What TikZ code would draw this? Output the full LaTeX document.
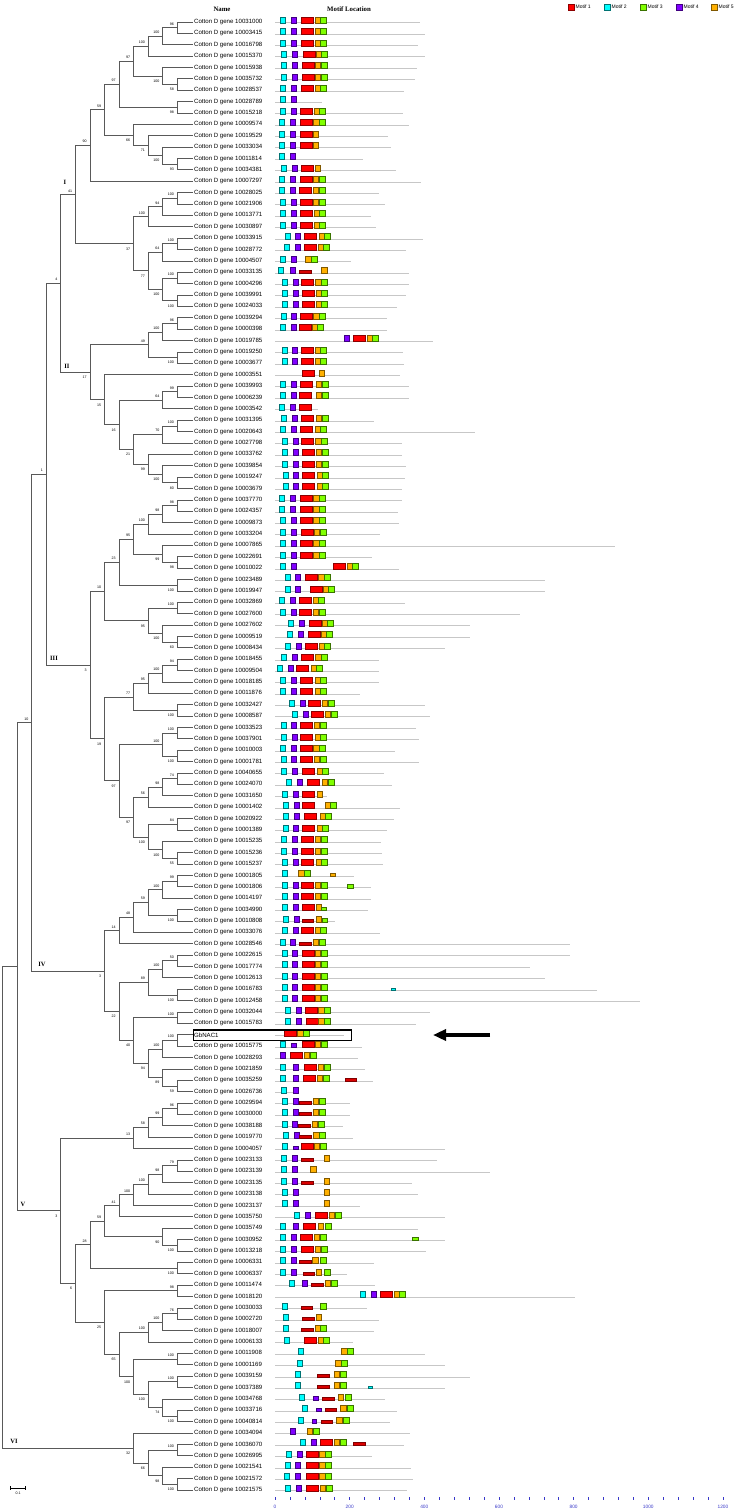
\documentclass[tikz,border=0pt]{standalone}
\usepackage{fontspec}
\setmainfont{Liberation Serif}
\setsansfont{Liberation Sans}
\usetikzlibrary{arrows.meta,calc}
\definecolor{mred}{HTML}{FF0000}
\definecolor{mcyan}{HTML}{00FFFF}
\definecolor{mgreen}{HTML}{80FF00}
\definecolor{mpurple}{HTML}{8000FF}
\definecolor{morange}{HTML}{FFB000}
\definecolor{axblue}{HTML}{3838C8}
\tikzset{leaf/.style={anchor=west,inner xsep=1.5pt,inner ysep=0pt,font=\sffamily\fontsize{6.1}{6.1}\selectfont},
  branch/.style={draw=black!65,line width=0.9pt},
  boot/.style={anchor=east,inner sep=0pt,xshift=-3.2pt,font=\sffamily\fontsize{3.6}{3.6}\selectfont},
  boota/.style={boot,yshift=3.8pt},
  bootb/.style={boot,yshift=-5pt},
  clab/.style={font=\bfseries\fontsize{6.5}{6.5}\selectfont,inner sep=0pt},
  seq/.style={draw=black!22,line width=0.8pt},
  mot/.style={anchor=south west,inner sep=0pt,outer sep=0pt,line width=0.45pt,minimum height=6pt},
  motr/.style={mot,fill=mred,draw=mred!55!black,minimum width=12pt},
  motR/.style={mot,fill=mred!85!black,draw=mred!50!black,minimum width=11.5pt,minimum height=3pt},
  motc/.style={mot,fill=mcyan,draw=mcyan!45!black,minimum width=5pt},
  motC/.style={mot,fill=mcyan,draw=mcyan!45!black,minimum width=4pt,minimum height=2.5pt},
  motg/.style={mot,fill=mgreen,draw=mgreen!45!black,minimum width=6pt},
  motG/.style={mot,fill=mgreen,draw=mgreen!45!black,minimum width=5.5pt,minimum height=3.5pt},
  motp/.style={mot,fill=mpurple,draw=mpurple!50!black,minimum width=5pt},
  motP/.style={mot,fill=mpurple,draw=mpurple!50!black,minimum width=4.5pt,minimum height=3.5pt},
  moto/.style={mot,fill=morange,draw=morange!50!black,minimum width=5.3pt},
  motO/.style={mot,fill=morange,draw=morange!50!black,minimum width=5pt,minimum height=3pt},
  axtick/.style={draw=axblue,line width=0.5pt},
  axlab/.style={text=axblue,inner sep=0pt,font=\sffamily\fontsize{4.8}{4.8}\selectfont}}

% one row: index, name, end of sequence line, motifs (type/left edge)
\newcommand{\gene}[4]{%
  \pgfmathsetmacro{\ry}{22+(#1-1)*11.38}
  \node[leaf] (l#1) at (192.5,\ry) {#2};
  \draw[seq] (275,\ry+0.7) -- (#3,\ry+0.7);
  \foreach \t/\x [count=\k] in {#4} {\node[mot\t] (m#1-\k) at (\x,\ry+1) {};}
}
% one clade: name, level, upper child, lower child, support, label side
\newcommand{\clade}[6]{%
  \path let \p1=(#3), \p2=(#4) in ({(177.3-14.55*#2)*1pt},{(\y1+\y2)/2}) coordinate (#1);
  \draw[branch] (#3) -- (#1 |- #3) -- (#1 |- #4) -- (#4);
  \node[boot#6] (#1b) at (#1) {#5};
}

\begin{document}
\begin{tikzpicture}[x=1pt,y=-1pt]
\useasboundingbox (0,0) rectangle (740,1511);

% headers and legend
\node[font=\bfseries\fontsize{6.8}{6.8}\selectfont] (hname) at (222,9) {Name};
\node[font=\bfseries\fontsize{6.8}{6.8}\selectfont] (hmotif) at (349,9) {Motif Location};
\node[motr,minimum width=6pt] (k1) at (568,10) {};
\node[leaf,font=\sffamily\fontsize{5}{5}\selectfont] (t1) at (k1.east) {Motif 1};
\node[motc,minimum width=6pt] (k2) at (604,10) {};
\node[leaf,font=\sffamily\fontsize{5}{5}\selectfont] (t2) at (k2.east) {Motif 2};
\node[motg,minimum width=6pt] (k3) at (640,10) {};
\node[leaf,font=\sffamily\fontsize{5}{5}\selectfont] (t3) at (k3.east) {Motif 3};
\node[motp,minimum width=6pt] (k4) at (676,10) {};
\node[leaf,font=\sffamily\fontsize{5}{5}\selectfont] (t4) at (k4.east) {Motif 4};
\node[moto,minimum width=6pt] (k5) at (711,10) {};
\node[leaf,font=\sffamily\fontsize{5}{5}\selectfont] (t5) at (k5.east) {Motif 5};

% leaves and motifs
\gene{1}{Cotton D gene 10031000}{420}{c/280,p/291,r/301.3,o/315.3,g/320.7}
\gene{2}{Cotton D gene 10003415}{425}{c/280,p/291,r/301.3,o/315.3,g/320.7}
\gene{3}{Cotton D gene 10016798}{418}{c/280,p/291,r/301.3,o/315.3,g/320.7}
\gene{4}{Cotton D gene 10015370}{425}{c/281,p/292,r/303,o/316.3,g/321.7}
\gene{5}{Cotton D gene 10015938}{417}{c/281,p/292,r/302,o/315.3,g/321.3}
\gene{6}{Cotton D gene 10035732}{415}{c/281,p/292,r/302,o/315.3,g/321.3}
\gene{7}{Cotton D gene 10028537}{404}{c/280,p/291,r/301.3,o/315.3,g/320.7}
\gene{8}{Cotton D gene 10028789}{322}{c/280,p/291}
\gene{9}{Cotton D gene 10015218}{403}{c/280,p/291,r/300.3,o/314.3,g/319.7}
\gene{10}{Cotton D gene 10009574}{409}{c/279.3,p/290.7,r/300,o/313.7,g/319}
\gene{11}{Cotton D gene 10019529}{388}{c/279.3,p/290.7,r/300,o/313.3}
\gene{12}{Cotton D gene 10033034}{391}{c/279.3,p/290.7,r/300,o/313.3}
\gene{13}{Cotton D gene 10011814}{363}{c/279.3,p/290.7}
\gene{14}{Cotton D gene 10034381}{396}{c/281.7,p/292,r/301.7,o/315}
\gene{15}{Cotton D gene 10007297}{421}{c/279.3,p/290.7,r/300.3,o/313.3,g/319}
\gene{16}{Cotton D gene 10028025}{379}{c/279.3,p/290.7,r/299.3,o/313.3,g/319}
\gene{17}{Cotton D gene 10021906}{385}{c/280,p/291,r/300,o/313.3,g/319}
\gene{18}{Cotton D gene 10013771}{371}{c/280.7,p/291.7,r/300.3,o/314.3,g/319.7}
\gene{19}{Cotton D gene 10030897}{376}{c/280.7,p/291.7,r/300.3,o/314.3,g/319.7}
\gene{20}{Cotton D gene 10033915}{423}{c/285,p/295.7,r/304.7,o/319,g/324.3}
\gene{21}{Cotton D gene 10028772}{406}{c/284.3,p/295.3,r/304.3,o/318.3,g/323.7}
\gene{22}{Cotton D gene 10004507}{351}{c/280.7,p/291,o/305.7,g/311}
\gene{23}{Cotton D gene 10033135}{409}{c/278.7,p/290.3,R/299.3,o/321.7}
\gene{24}{Cotton D gene 10004296}{409}{c/282.7,p/293,r/301.7,o/315.7,g/321}
\gene{25}{Cotton D gene 10039991}{406}{c/282.7,p/293.7,r/302.3,o/316.3,g/321.7}
\gene{26}{Cotton D gene 10024033}{397}{c/282.7,p/293.7,r/302.3,o/316.3,g/321.7}
\gene{27}{Cotton D gene 10039294}{387}{c/281,p/291.3,r/300,o/313.7,g/319}
\gene{28}{Cotton D gene 10000398}{387}{c/280,p/291,r/299.7,o/312.3,g/317.7}
\gene{29}{Cotton D gene 10019785}{433}{p/344.7,r/353.7,o/367,g/372.7}
\gene{30}{Cotton D gene 10019250}{403}{c/282,p/292.3,r/301,o/315,g/320.7}
\gene{31}{Cotton D gene 10003677}{404}{c/282,p/292.3,r/301,o/315,g/320.7}
\gene{32}{Cotton D gene 10003551}{400}{r/302.3,o/319}
\gene{33}{Cotton D gene 10039993}{409}{c/280,p/291,r/300,o/316.3,g/322}
\gene{34}{Cotton D gene 10006239}{409}{c/280,p/291,r/299.3,o/316.3,g/322}
\gene{35}{Cotton D gene 10003542}{318}{c/279.3,p/290.7,r/299.3}
\gene{36}{Cotton D gene 10031395}{374}{c/281.7,p/292.3,r/301.7,o/316.3,g/322}
\gene{37}{Cotton D gene 10020643}{475}{c/280.7,p/291.7,r/300.7,o/315,g/320.7}
\gene{38}{Cotton D gene 10027798}{402}{c/282.3,p/293.3,r/301,o/315.7,g/321.3}
\gene{39}{Cotton D gene 10033762}{402}{c/282.3,p/293.3,r/302,o/316.3,g/322}
\gene{40}{Cotton D gene 10039854}{406}{c/282.3,p/293.3,r/302,o/316.3,g/322}
\gene{41}{Cotton D gene 10019247}{405}{c/283,p/293.7,r/302.7,o/317,g/322.7}
\gene{42}{Cotton D gene 10003679}{402}{c/283,p/293.7,r/302.7,o/317,g/322.7}
\gene{43}{Cotton D gene 10037770}{402}{c/279.3,p/290.7,r/300,o/313.7,g/319}
\gene{44}{Cotton D gene 10024357}{398}{c/279.3,p/290.7,r/300,o/313.7,g/319}
\gene{45}{Cotton D gene 10009873}{399}{c/280,p/291,r/300.7,o/313.7,g/319}
\gene{46}{Cotton D gene 10033204}{380}{c/280.3,p/291.3,r/301,o/314.3,g/320}
\gene{47}{Cotton D gene 10007865}{615}{c/280,p/291,r/300.7,o/313.7,g/319}
\gene{48}{Cotton D gene 10022691}{372}{c/280,p/291,r/300.3,o/313.7,g/319}
\gene{49}{Cotton D gene 10010022}{399}{c/280,p/291,r/333.7,o/347,g/352.3}
\gene{50}{Cotton D gene 10023489}{545}{c/285,p/295.7,r/305.3,o/318.7,g/324.3}
\gene{51}{Cotton D gene 10019947}{545}{c/285,p/295.7,r/310,o/323,g/328.7}
\gene{52}{Cotton D gene 10032869}{405}{c/279.3,p/290,r/299.7,o/313,g/318.7}
\gene{53}{Cotton D gene 10027600}{520}{c/280,p/291,r/299.7,o/313.3,g/319}
\gene{54}{Cotton D gene 10027602}{470}{c/288.7,p/299.3,r/309,o/322,g/327.7}
\gene{55}{Cotton D gene 10009519}{470}{c/287.3,p/298.3,r/308,o/321.7,g/326.7}
\gene{56}{Cotton D gene 10008434}{445}{c/285,p/296,r/305,o/319,g/324.3}
\gene{57}{Cotton D gene 10018455}{379}{c/281.7,p/292.3,r/301,o/315.7,g/321.3}
\gene{58}{Cotton D gene 10009504}{379}{c/277.3,p/288.3,r/296.7,o/311,g/316.7}
\gene{59}{Cotton D gene 10018185}{379}{c/280.3,p/291.3,r/300,o/315,g/320.7}
\gene{60}{Cotton D gene 10011876}{360}{c/280.3,p/291.3,r/300,o/315,g/320.7}
\gene{61}{Cotton D gene 10032427}{425}{c/289.3,p/300,r/308.7,o/322.3,g/328}
\gene{62}{Cotton D gene 10008587}{430}{c/292,p/303,r/311.7,o/325.3,g/331}
\gene{63}{Cotton D gene 10033523}{416}{c/281,p/291.3,r/300,o/314.3,g/320}
\gene{64}{Cotton D gene 10037901}{419}{c/281.7,p/292,r/300.7,o/315,g/320.7}
\gene{65}{Cotton D gene 10010003}{395}{c/280,p/291,r/300,o/313.7,g/319}
\gene{66}{Cotton D gene 10001781}{419}{c/281,p/291.3,r/300,o/314.3,g/320}
\gene{67}{Cotton D gene 10040655}{384}{c/281.7,p/292.3,r/302,o/317,g/322.7}
\gene{68}{Cotton D gene 10024070}{392}{c/286.7,p/297.3,r/307.3,o/322.3,g/328}
\gene{69}{Cotton D gene 10031650}{327}{c/282,p/293,r/302.3,o/317}
\gene{70}{Cotton D gene 10001402}{400}{c/283,p/294,r/302,o/325.3,g/330.7}
\gene{71}{Cotton D gene 10020922}{394}{c/283,p/294,r/304,o/320,g/325.3}
\gene{72}{Cotton D gene 10001389}{387}{c/283,p/293.3,r/302.7,o/317,g/322.7}
\gene{73}{Cotton D gene 10015235}{381}{c/281.7,p/292.3,r/301,o/315.3,g/321}
\gene{74}{Cotton D gene 10015236}{382}{c/281.7,p/292.3,r/301,o/315.3,g/321}
\gene{75}{Cotton D gene 10015237}{383}{c/282.3,p/293,r/301.7,o/316,g/321.7}
\gene{76}{Cotton D gene 10001805}{354}{c/282,o/298.7,g/304,O/330}
\gene{77}{Cotton D gene 10001806}{371}{c/282.7,p/293,r/301.3,o/315.3,g/321,G/347.3}
\gene{78}{Cotton D gene 10014197}{371}{c/282.7,p/293,r/301.3,o/315.3,g/321}
\gene{79}{Cotton D gene 10034990}{368}{c/282.7,p/293.3,r/302,o/316,G/321}
\gene{80}{Cotton D gene 10010808}{335}{c/283.7,p/294,R/302,o/316,G/322}
\gene{81}{Cotton D gene 10033076}{380}{c/282.7,p/293,r/301,o/315,g/320.7}
\gene{82}{Cotton D gene 10028546}{570}{c/280,p/290.7,R/299.3,o/313.3,g/319}
\gene{83}{Cotton D gene 10022615}{570}{c/282,p/292.3,r/302,o/315.3,g/321}
\gene{84}{Cotton D gene 10017774}{530}{c/282,p/292.3,r/302,o/315.3,g/321}
\gene{85}{Cotton D gene 10012613}{545}{c/282,p/292.3,r/302,o/315.3,g/321}
\gene{86}{Cotton D gene 10016783}{597}{c/282,p/292.3,r/302,o/315.3,g/321,C/391.7}
\gene{87}{Cotton D gene 10012458}{640}{c/282,p/292.3,r/302,o/315.3,g/321}
\gene{88}{Cotton D gene 10032044}{430}{c/285.7,p/296,r/305,o/318.7,g/324.3}
\gene{89}{Cotton D gene 10015783}{416}{c/285.7,p/296,r/306,o/318.7,g/324.3}
\gene{90}{GbNAC1}{344}{r/284,o/297.7,g/303.3}
\gene{91}{Cotton D gene 10015775}{362}{c/280.7,P/291.7,r/302,o/315.3,g/321}
\gene{92}{Cotton D gene 10028293}{358}{p/280.7,r/290.7,o/304,g/310}
\gene{93}{Cotton D gene 10021859}{365}{c/280.7,p/293.7,r/304.3,o/318.3,g/324}
\gene{94}{Cotton D gene 10035259}{373}{c/280.7,p/293,r/303.3,o/317.3,g/323,R/345}
\gene{95}{Cotton D gene 10026736}{298}{c/281.7,p/293}
\gene{96}{Cotton D gene 10029594}{350}{c/282.7,p/293,R/299.3,o/313.3,g/319}
\gene{97}{Cotton D gene 10030000}{350}{c/282.7,p/293,R/299.3,o/313.3,g/319}
\gene{98}{Cotton D gene 10038188}{343}{c/282,p/292.3,R/298.7,o/312.3,g/318}
\gene{99}{Cotton D gene 10019770}{353}{c/283.3,p/294,R/299.3,o/313.7,g/319.3}
\gene{100}{Cotton D gene 10004057}{445}{c/282.7,P/293.3,r/301.7,o/314.3,g/320}
\gene{101}{Cotton D gene 10023133}{437}{c/281.7,p/292.7,R/301.7,o/324.3}
\gene{102}{Cotton D gene 10023139}{490}{c/281.7,p/292.7,o/310.7}
\gene{103}{Cotton D gene 10023135}{412}{c/281.7,p/292.7,R/301.7,o/324.3}
\gene{104}{Cotton D gene 10023138}{418}{c/282.3,p/293,o/324.3}
\gene{105}{Cotton D gene 10023137}{360}{c/282.3,p/293,o/324.3}
\gene{106}{Cotton D gene 10035750}{445}{c/294.3,p/305,r/315,o/329,g/335}
\gene{107}{Cotton D gene 10035749}{418}{c/280.7,p/293.3,r/303.3,o/318.3,g/325}
\gene{108}{Cotton D gene 10030952}{445}{c/280.7,p/291,r/300.3,o/314,g/320.7,G/412.3}
\gene{109}{Cotton D gene 10013218}{426}{c/280.7,p/291.3,r/301.3,o/315.3,g/321}
\gene{110}{Cotton D gene 10006331}{374}{c/280.7,p/291,R/299.3,o/312.7,g/320.7}
\gene{111}{Cotton D gene 10006337}{347}{c/280.7,p/291.7,R/303,o/316.3,g/324.3}
\gene{112}{Cotton D gene 10011474}{375}{c/289.3,p/302,R/311.7,o/325,g/331.7}
\gene{113}{Cotton D gene 10018120}{575}{c/360.3,p/371,r/380,o/394,g/399.7}
\gene{114}{Cotton D gene 10030033}{367}{c/282,R/301,g/320.3}
\gene{115}{Cotton D gene 10002720}{379}{c/283.3,R/302.7,o/316.3}
\gene{116}{Cotton D gene 10018007}{374}{c/283.3,R/301.3,o/315,g/320.7}
\gene{117}{Cotton D gene 10006133}{353}{c/284.7,r/304.3,o/318.3,g/323.7}
\gene{118}{Cotton D gene 10011908}{425}{c/298.7,o/341.7,g/347.7}
\gene{119}{Cotton D gene 10001169}{445}{c/297.7,o/335.7,g/341.3}
\gene{120}{Cotton D gene 10039159}{470}{c/295.3,R/317.7,o/334.3,g/340}
\gene{121}{Cotton D gene 10037389}{445}{c/295.3,R/317.7,o/334.3,g/340,C/368.7}
\gene{122}{Cotton D gene 10034768}{385}{c/299.7,P/313.7,R/322.3,o/338,g/345}
\gene{123}{Cotton D gene 10033716}{397}{c/302.7,P/316.3,R/325,o/340.7,g/347.7}
\gene{124}{Cotton D gene 10040814}{390}{c/298.3,P/312,R/321,o/336.7,g/343.7}
\gene{125}{Cotton D gene 10034094}{410}{p/290.3,o/307,g/313}
\gene{126}{Cotton D gene 10036070}{404}{c/300.7,p/311.3,r/320.3,o/334.3,g/340,R/353.7}
\gene{127}{Cotton D gene 10026995}{372}{c/286.7,p/297,r/306,o/319.7,g/325.3}
\gene{128}{Cotton D gene 10021541}{411}{c/285,p/295.7,r/306,o/319.7,g/325.3}
\gene{129}{Cotton D gene 10021572}{413}{c/284.3,p/295.3,r/306,o/319.7,g/325.3}
\gene{130}{Cotton D gene 10021575}{407}{c/285,p/296,r/306.7,o/320,g/326}

% clade I
\clade{a1}{0}{l1}{l2}{96}{a}
\clade{a3}{1}{a1}{l3}{100}{a}
\clade{a4}{2}{a3}{l4}{100}{a}
\clade{a6}{0}{l6}{l7}{58}{b}
\clade{a5}{1}{l5}{a6}{100}{b}
\clade{a7}{3}{a4}{a5}{97}{a}
\clade{a8}{0}{l8}{l9}{98}{b}
\clade{a9}{4}{a7}{a8}{97}{a}
\clade{a13}{0}{l13}{l14}{93}{b}
\clade{a12}{1}{l12}{a13}{100}{b}
\clade{a11}{2}{l11}{a12}{71}{b}
\clade{a10}{3}{l10}{a11}{66}{b}
\clade{a14}{5}{a9}{a10}{59}{a}
\clade{a15}{6}{a14}{l15}{90}{a}
\clade{b1}{0}{l16}{l17}{100}{a}
\clade{b2}{1}{b1}{l18}{94}{a}
\clade{b3}{2}{b2}{l19}{100}{a}
\clade{b4}{0}{l20}{l21}{100}{a}
\clade{b5}{1}{b4}{l22}{64}{a}
\clade{b6}{0}{l23}{l24}{100}{a}
\clade{b7}{0}{l25}{l26}{100}{b}
\clade{b8}{1}{b6}{b7}{100}{b}
\clade{b9}{2}{b5}{b8}{77}{b}
\clade{b10}{3}{b3}{b9}{37}{b}
\clade{cI}{7}{a15}{b10}{41}{a}
% clade II
\clade{d1}{0}{l27}{l28}{96}{a}
\clade{d2}{1}{d1}{l29}{100}{a}
\clade{d3}{0}{l30}{l31}{100}{b}
\clade{d4}{2}{d2}{d3}{49}{a}
\clade{d5}{0}{l33}{l34}{99}{a}
\clade{d6}{1}{d5}{l35}{64}{a}
\clade{d7}{0}{l36}{l37}{100}{a}
\clade{d8}{1}{d7}{l38}{70}{a}
\clade{d9}{0}{l41}{l42}{80}{b}
\clade{d10}{1}{l40}{d9}{100}{b}
\clade{d11}{2}{l39}{d10}{99}{b}
\clade{d12}{3}{d8}{d11}{21}{b}
\clade{d13}{4}{d6}{d12}{16}{b}
\clade{d14}{5}{l32}{d13}{15}{b}
\clade{cII}{6}{d4}{d14}{17}{b}
\clade{e4}{8}{cI}{cII}{4}{a}
% clade III
\clade{f1}{0}{l43}{l44}{98}{a}
\clade{f2}{1}{f1}{l45}{98}{a}
\clade{f3}{2}{f2}{l46}{100}{a}
\clade{f4}{0}{l48}{l49}{98}{b}
\clade{f5}{1}{l47}{f4}{99}{b}
\clade{f6}{3}{f3}{f5}{95}{a}
\clade{f7}{0}{l50}{l51}{100}{b}
\clade{f8}{4}{f6}{f7}{23}{a}
\clade{f9}{0}{l52}{l53}{100}{a}
\clade{f10}{0}{l55}{l56}{60}{b}
\clade{f11}{1}{l54}{f10}{100}{b}
\clade{f12}{2}{f9}{f11}{95}{b}
\clade{f13}{5}{f8}{f12}{10}{a}
\clade{g1}{0}{l57}{l58}{94}{a}
\clade{g2}{1}{g1}{l59}{100}{a}
\clade{g3}{2}{g2}{l60}{95}{a}
\clade{g4}{0}{l61}{l62}{100}{b}
\clade{g5}{3}{g3}{g4}{77}{a}
\clade{g6}{0}{l63}{l64}{100}{a}
\clade{g7}{0}{l65}{l66}{100}{b}
\clade{g8}{1}{g6}{g7}{100}{a}
\clade{g9}{0}{l67}{l68}{74}{a}
\clade{g10}{1}{g9}{l69}{98}{a}
\clade{g11}{2}{g10}{l70}{56}{a}
\clade{g12}{0}{l71}{l72}{84}{a}
\clade{g13}{0}{l74}{l75}{55}{b}
\clade{g14}{1}{l73}{g13}{100}{b}
\clade{g15}{2}{g12}{g14}{100}{b}
\clade{g16}{3}{g11}{g15}{97}{b}
\clade{g17}{4}{g8}{g16}{97}{b}
\clade{g18}{5}{g5}{g17}{19}{b}
\clade{cIII}{6}{f13}{g18}{3}{b}
\clade{e1}{9}{e4}{cIII}{1}{a}
% clade IV
\clade{h1}{0}{l76}{l77}{99}{a}
\clade{h2}{1}{h1}{l78}{100}{a}
\clade{h3}{0}{l79}{l80}{100}{b}
\clade{h4}{2}{h2}{h3}{59}{a}
\clade{h5}{3}{h4}{l81}{48}{a}
\clade{h6}{4}{h5}{l82}{14}{a}
\clade{h7}{0}{l83}{l84}{50}{a}
\clade{h8}{1}{h7}{l85}{100}{a}
\clade{h9}{0}{l86}{l87}{100}{b}
\clade{h10}{2}{h8}{h9}{89}{a}
\clade{h11}{0}{l88}{l89}{100}{a}
\clade{h12}{0}{l90}{l91}{100}{a}
\clade{h13}{1}{h12}{l92}{100}{a}
\clade{h14}{0}{l94}{l95}{59}{b}
\clade{h15}{1}{l93}{h14}{89}{b}
\clade{h16}{2}{h13}{h15}{94}{b}
\clade{h17}{3}{h11}{h16}{40}{b}
\clade{h18}{4}{h10}{h17}{22}{b}
\clade{cIV}{5}{h6}{h18}{3}{b}
\clade{e10}{10}{e1}{cIV}{10}{a}
% clade V
\clade{i1}{0}{l96}{l97}{96}{a}
\clade{i2}{1}{i1}{l98}{99}{a}
\clade{i3}{2}{i2}{l99}{58}{a}
\clade{i4}{3}{i3}{l100}{13}{a}
\clade{i5}{0}{l101}{l102}{79}{a}
\clade{i6}{1}{i5}{l103}{98}{a}
\clade{i7}{2}{i6}{l104}{100}{a}
\clade{i8}{3}{i7}{l105}{100}{a}
\clade{i9}{4}{i8}{l106}{41}{a}
\clade{i10}{0}{l108}{l109}{100}{b}
\clade{i11}{1}{l107}{i10}{90}{b}
\clade{i12}{5}{i9}{i11}{59}{a}
\clade{i13}{0}{l110}{l111}{100}{b}
\clade{i14}{6}{i12}{i13}{28}{a}
\clade{j1}{0}{l112}{l113}{98}{a}
\clade{j2}{0}{l114}{l115}{76}{a}
\clade{j3}{1}{j2}{l116}{100}{a}
\clade{j4}{2}{j3}{l117}{100}{a}
\clade{j5}{0}{l118}{l119}{100}{a}
\clade{j6}{0}{l120}{l121}{100}{a}
\clade{j7}{0}{l123}{l124}{100}{b}
\clade{j8}{1}{l122}{j7}{74}{b}
\clade{j9}{2}{j6}{j8}{100}{b}
\clade{j10}{3}{j5}{j9}{100}{b}
\clade{j11}{4}{j4}{j10}{65}{b}
\clade{j12}{5}{j1}{j11}{25}{b}
\clade{i15}{7}{i14}{j12}{6}{b}
\clade{cV}{8}{i4}{i15}{3}{b}
\clade{e11}{11}{e10}{cV}{}{a}
% clade VI and root
\clade{k1}{0}{l126}{l127}{100}{a}
\clade{k2}{0}{l129}{l130}{100}{b}
\clade{k3}{1}{l128}{k2}{98}{b}
\clade{k4}{2}{k1}{k3}{66}{b}
\clade{cVI}{3}{l125}{k4}{32}{b}
\clade{root}{12}{e11}{cVI}{}{a}

% group labels
\node[clab] (gI) at (65,182) {I};
\node[clab] (gII) at (67,366) {II};
\node[clab] (gIII) at (54,658) {III};
\node[clab] (gIV) at (42,964) {IV};
\node[clab] (gV) at (23,1204) {V};
\node[clab] (gVI) at (14,1441) {VI};

% highlighted gene and arrow
\node[draw,line width=1.2pt,minimum width=158pt,minimum height=10.7pt,inner sep=0pt,anchor=west] (hl) at (193,1035.3) {};
\coordinate (atail) at (490,1035);
\coordinate (ahead) at (433,1035);
\draw[line width=4.5pt,-{Triangle[length=13pt,width=11pt]}] (atail) -- (ahead);

% scale bar
\coordinate (sb1) at (10.7,1488);
\coordinate (sb2) at (25.7,1488);
\draw[line width=0.5pt] (sb1) -- (sb2) (sb1) ++(0,-1.7) -- ++(0,3.4) (sb2) ++(0,-1.7) -- ++(0,3.4);
\node[font=\sffamily\fontsize{3.6}{3.6}\selectfont,inner sep=0pt] (sbl) at (18.2,1493.5) {0.1};

% position axis
\foreach \a in {0,40,...,1200} \draw[axtick] ({275+0.3733*\a},1497) -- ++(0,3);
\foreach \a in {0,200,...,1200} \node[axlab] (ax\a) at ({275+0.3733*\a},1507) {\a};
\end{tikzpicture}
\end{document}
